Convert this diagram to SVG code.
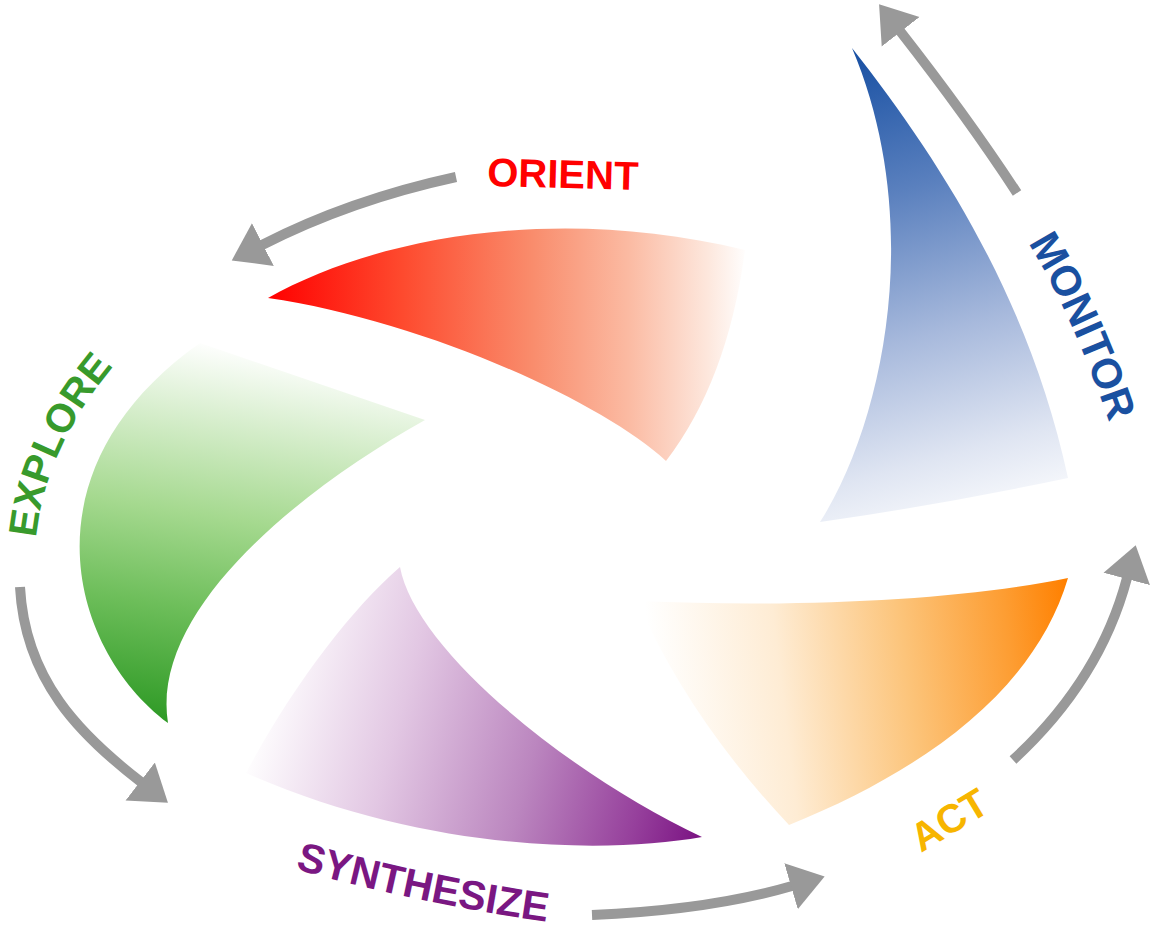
<svg xmlns="http://www.w3.org/2000/svg" width="1150" height="930" viewBox="0 0 1150 930">
<defs>
<style>
.lbl{font-family:"Liberation Sans",Arial,sans-serif;font-weight:bold;font-size:40px}
.conn{fill:none;stroke:#999999;stroke-width:10;marker-end:url(#ah)}
</style>
<marker id="ah" markerUnits="userSpaceOnUse" markerWidth="36" markerHeight="50" viewBox="0 0 36 50" refX="1" refY="25" orient="auto">
<path d="M0,1 L35,25 L0,49 Z" fill="#999999"/>
</marker>
<linearGradient id="gR" gradientUnits="userSpaceOnUse" x1="268" y1="0" x2="748" y2="0">
<stop offset="0" stop-color="#ff0000"/><stop offset="0.28" stop-color="#fe4a2e"/><stop offset="0.55" stop-color="#f98c6c"/><stop offset="0.75" stop-color="#fbbaa2"/><stop offset="0.92" stop-color="#fde8de"/><stop offset="1" stop-color="#ffffff"/>
</linearGradient>
<linearGradient id="gB" gradientUnits="userSpaceOnUse" x1="860" y1="50" x2="990" y2="520">
<stop offset="0" stop-color="#1850a3"/><stop offset="0.3" stop-color="#5a80be"/><stop offset="0.6" stop-color="#a7b9dc"/><stop offset="0.85" stop-color="#dfe5f2"/><stop offset="1" stop-color="#fafbfd"/>
</linearGradient>
<linearGradient id="gO" gradientUnits="userSpaceOnUse" x1="650" y1="650" x2="1068" y2="600">
<stop offset="0" stop-color="#ffffff"/><stop offset="0.3" stop-color="#feecd4"/><stop offset="0.6" stop-color="#fcc47a"/><stop offset="0.85" stop-color="#fd9d32"/><stop offset="1" stop-color="#ff8000"/>
</linearGradient>
<linearGradient id="gG" gradientUnits="userSpaceOnUse" x1="170" y1="722" x2="230" y2="345">
<stop offset="0" stop-color="#2f9a26"/><stop offset="0.3" stop-color="#6dbe5a"/><stop offset="0.55" stop-color="#a5d98f"/><stop offset="0.8" stop-color="#d7eecd"/><stop offset="1" stop-color="#ffffff"/>
</linearGradient>
<linearGradient id="gP" gradientUnits="userSpaceOnUse" x1="255" y1="720" x2="702" y2="840">
<stop offset="0" stop-color="#ffffff"/><stop offset="0.3" stop-color="#e2c7e3"/><stop offset="0.6" stop-color="#bb86bf"/><stop offset="0.85" stop-color="#96409c"/><stop offset="1" stop-color="#7a1282"/>
</linearGradient>
<path id="pMon" d="M1028,243 Q1075,318 1115,440"/>
<path id="pExp" d="M36,538 Q46,440 126,352"/>
<path id="pSyn" d="M295,869 Q420,904 555,923"/>
</defs>
<rect width="1150" height="930" fill="#ffffff"/>

<g id="orient">
<path d="M268,298 C380,235 560,205 745,250 Q728,380 666,461 C600,400 420,320 268,298 Z" fill="url(#gR)"/>
<text class="lbl" x="487" y="186" fill="#ff0000" transform="rotate(1.5 487 186)">ORIENT</text>
</g>

<g id="monitor">
<path d="M852,48 C940,160 1030,300 1068,478 Q940,505 820,522 C885,420 925,220 852,48 Z" fill="url(#gB)"/>
<text class="lbl" fill="#1a50a0" style="font-size:42px"><textPath href="#pMon">MONITOR</textPath></text>
</g>

<g id="act">
<path d="M637,601 C800,608 960,600 1068,578 C1035,690 925,770 789,825 Q690,720 637,601 Z" fill="url(#gO)"/>
<text class="lbl" x="921" y="853" fill="#f7b500" transform="rotate(-31 921 853)">ACT</text>
</g>

<g id="synthesize">
<path d="M400,567 C415,650 570,775 702,837 C600,855 420,850 246,773 C290,690 350,610 400,567 Z" fill="url(#gP)"/>
<text class="lbl" fill="#7a1782" style="font-size:41px"><textPath href="#pSyn">SYNTHESIZE</textPath></text>
</g>

<g id="explore">
<path d="M168,723 C70,650 20,470 200,343 L425,420 C300,490 150,610 168,723 Z" fill="url(#gG)"/>
<text class="lbl" fill="#389a2c"><textPath href="#pExp">EXPLORE</textPath></text>
</g>

<g id="connectors">
<path class="conn" d="M456,177 Q350,200 262,245"/>
<path class="conn" d="M1017,193 Q968,118 900,31"/>
<path class="conn" d="M20,587 C25,680 80,735 141,782"/>
<path class="conn" d="M592,915 Q710,910 792,886"/>
<path class="conn" d="M1013,760 Q1100,680 1127,578"/>
</g>
</svg>
